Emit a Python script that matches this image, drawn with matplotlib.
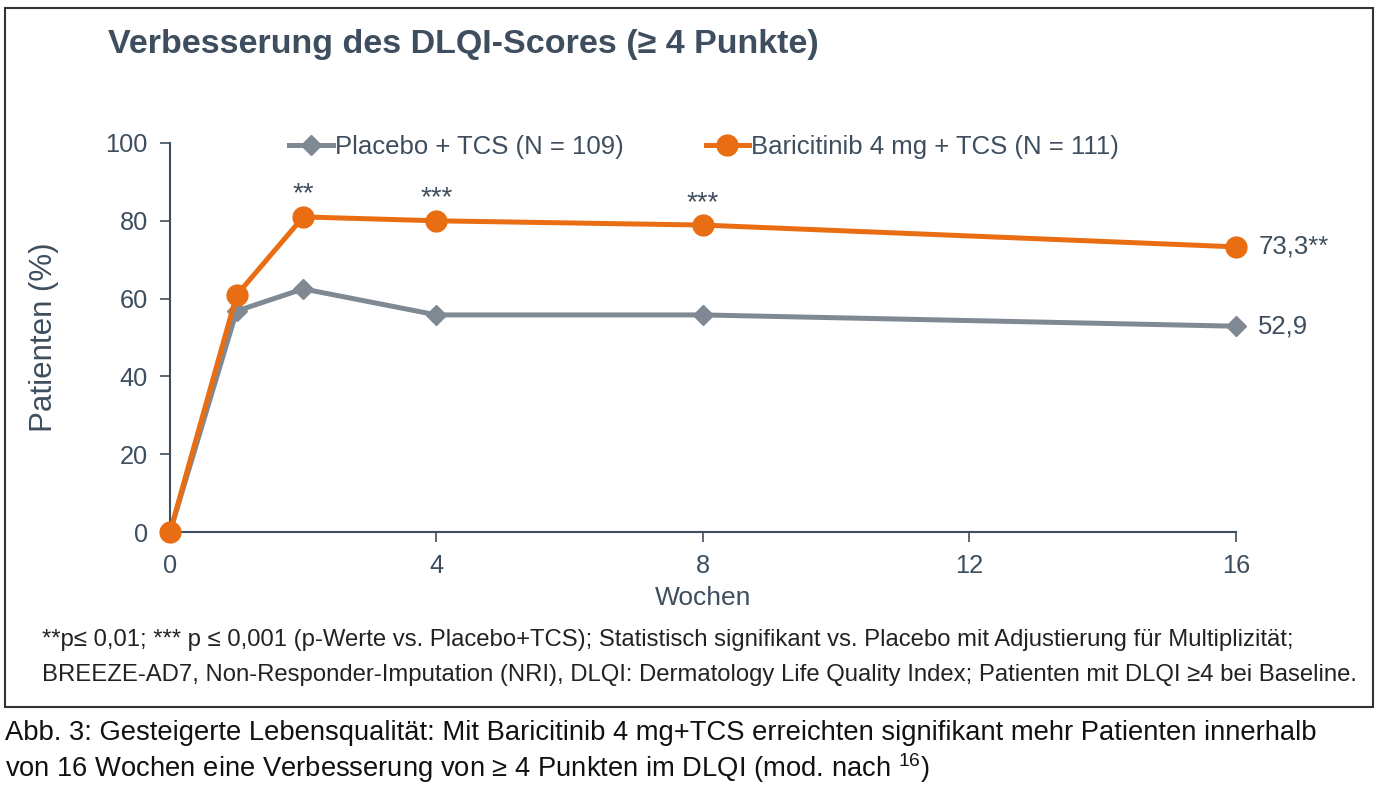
import matplotlib.pyplot as plt
from matplotlib.patches import Rectangle

# Daten
wochen = [0, 1, 2, 4, 8, 16]
placebo = [0, 56.8, 62.5, 55.8, 55.8, 52.9]
baricitinib = [0, 60.9, 81.0, 80.0, 78.9, 73.3]
sterne = {2: '**', 4: '***', 8: '***'}
x_ticks = [0, 4, 8, 12, 16]
y_ticks = [0, 20, 40, 60, 80, 100]

grau = '#7f8993'
orange = '#e96d12'
text_farbe = '#3e4e5e'

plt.rcParams['font.family'] = ['Liberation Sans', 'DejaVu Sans']
plt.rcParams['mathtext.fontset'] = 'custom'
plt.rcParams['mathtext.rm'] = 'Liberation Sans'

W, H = 1384, 787
fig = plt.figure(figsize=(W / 100, H / 100), dpi=100)
ax = fig.add_axes([170 / W, 1 - 532 / H, (1236 - 170) / W, (532 - 143) / H])

ax.plot(wochen, placebo, color=grau, lw=3.6, marker='D', markersize=10,
        label='Placebo + TCS (N = 109)', clip_on=False, zorder=3)
ax.plot(wochen, baricitinib, color=orange, lw=3.6, marker='o', markersize=15,
        label='Baricitinib 4 mg + TCS (N = 111)', clip_on=False, zorder=4)

# Signifikanz-Sterne
for w, s in sterne.items():
    i = wochen.index(w)
    ax.annotate(s, (w, baricitinib[i]), xytext=(0, 16), textcoords='offset points',
                ha='center', va='center', fontsize=20, color=text_farbe)

ax.annotate('73,3**', (wochen[-1], baricitinib[-1]), xytext=(16, 0),
            textcoords='offset points', ha='left', va='center', fontsize=18.5, color=text_farbe)
ax.annotate('52,9', (wochen[-1], placebo[-1]), xytext=(16, 0),
            textcoords='offset points', ha='left', va='center', fontsize=18.5, color=text_farbe)

ax.set_xlim(0, 16)
ax.set_ylim(0, 100)
ax.set_xticks(x_ticks)
ax.set_yticks(y_ticks)
ax.tick_params(colors=text_farbe, labelsize=18.3, length=7, width=1.2, pad=9)
for s in ['top', 'right']:
    ax.spines[s].set_visible(False)
for s in ['left', 'bottom']:
    ax.spines[s].set_color(text_farbe)
    ax.spines[s].set_linewidth(1.5)

ax.set_xlabel('Wochen', fontsize=19, color=text_farbe, va='center')
ax.xaxis.set_label_coords(0.5, (532 - 598) / 389)
ax.set_ylabel('Patienten (%)', fontsize=22.5, color=text_farbe, va='center')
ax.yaxis.set_label_coords((44 - 170) / 1066, 0.5)

leg = ax.legend(loc='center', bbox_to_anchor=(0.501, 0.99), ncol=2, frameon=False,
                fontsize=18.5, handlelength=1.7, handletextpad=0.08, columnspacing=3.2,
                labelcolor=text_farbe)

fig.text(108 / W, 1 - 45 / H, 'Verbesserung des DLQI-Scores (≥ 4 Punkte)',
         fontsize=24.5, fontweight='bold', color=text_farbe, va='center', ha='left')

fig.text(42 / W, 1 - 640 / H,
         '**p≤ 0,01; *** p ≤ 0,001 (p-Werte vs. Placebo+TCS); Statistisch signifikant vs. Placebo mit Adjustierung für Multiplizität;',
         fontsize=17.2, color='#222222', va='center', ha='left')
fig.text(42 / W, 1 - 675 / H,
         'BREEZE-AD7, Non-Responder-Imputation (NRI), DLQI: Dermatology Life Quality Index; Patienten mit DLQI ≥4 bei Baseline.',
         fontsize=17.2, color='#222222', va='center', ha='left')

fig.add_artist(Rectangle((5 / W, 1 - 707 / H), (1373 - 5) / W, (707 - 8) / H,
                         transform=fig.transFigure, fill=False, edgecolor='#333333', lw=1.5))

fig.text(5 / W, 1 - 733 / H,
         'Abb. 3: Gesteigerte Lebensqualität: Mit Baricitinib 4 mg+TCS erreichten signifikant mehr Patienten innerhalb',
         fontsize=19.7, color='#111111', va='center', ha='left')
fig.text(5 / W, 1 - 768 / H,
         'von 16 Wochen eine Verbesserung von ≥ 4 Punkten im DLQI (mod. nach $^{\\mathrm{16}}$)',
         fontsize=19.7, color='#111111', va='center', ha='left')

fig.savefig('out.png', dpi=100)
